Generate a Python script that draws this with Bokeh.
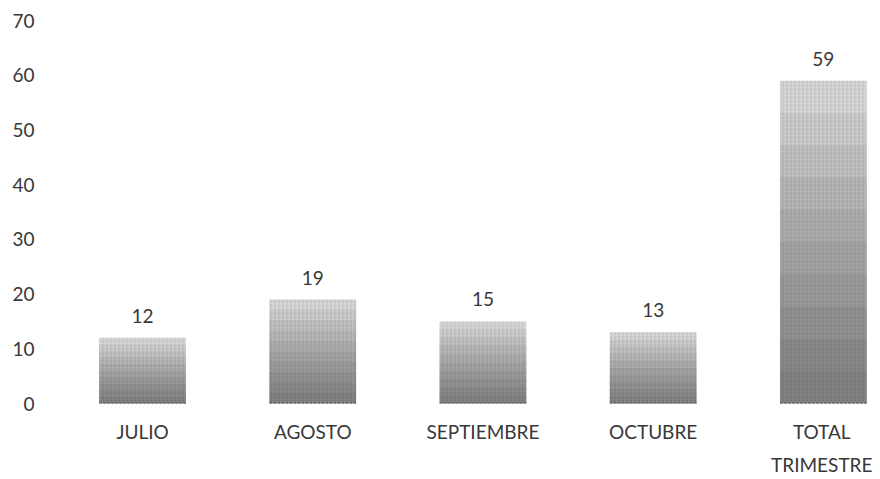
from bokeh.plotting import figure
from bokeh.models import ColumnDataSource, LabelSet, FixedTicker, Range1d
from bokeh.core.properties import value
from bokeh.embed import file_html
from bokeh.resources import INLINE

categories = ["JULIO", "AGOSTO", "SEPTIEMBRE", "OCTUBRE", "TOTAL\nTRIMESTRE"]
values = [12, 19, 15, 13, 59]
y_ticks = [0, 10, 20, 30, 40, 50, 60, 70]

FONT = "Lato"
TXT = "#383838"
W = 0.51
N_SHADE = 10

xs = list(range(len(categories)))
data = dict(
    x=xs,
    top=values,
    x0=[x - W / 2 for x in xs],
    x1=[x + W / 2 for x in xs],
    zero=[0 for _ in xs],
    label=[str(v) for v in values],
)
for k in range(1, N_SHADE):
    data[f"t{k}"] = [v * k / N_SHADE for v in values]
src = ColumnDataSource(data)

p = figure(width=872, height=478, output_backend="svg", toolbar_location=None,
           x_range=Range1d(-0.576, 4.277), y_range=Range1d(0, 70),
           min_border_left=44, min_border_right=2, min_border_top=20, min_border_bottom=0)
p.outline_line_color = None
p.background_fill_color = "white"
p.border_fill_color = "white"
p.grid.grid_line_color = None

p.vbar(x="x", top="top", width=W, source=src, fill_color="#d4d4d4", line_color=None,
       hatch_pattern="vertical_dash", hatch_color="#505050", hatch_alpha=0.22, hatch_scale=4)
for k in range(1, N_SHADE):
    p.vbar(x="x", top=f"t{k}", width=W, source=src, fill_color="black", fill_alpha=0.05, line_color=None)
p.segment(x0="x0", x1="x1", y0="zero", y1="zero", source=src, line_color="#444444",
          line_width=1.5, line_dash="3 1")

labels = LabelSet(x="x", y="top", text="label", source=src, text_align="center",
                  text_baseline="bottom", y_offset=15, text_font=value(FONT),
                  text_font_size="19px", text_color=TXT)
p.add_layout(labels)

p.xaxis.ticker = FixedTicker(ticks=xs)
p.xaxis.major_label_overrides = {i: c for i, c in enumerate(categories)}
p.yaxis.ticker = FixedTicker(ticks=y_ticks)
for ax in [p.xaxis[0], p.yaxis[0]]:
    ax.axis_line_color = None
    ax.major_tick_line_color = None
    ax.minor_tick_line_color = None
    ax.major_label_text_font = FONT
    ax.major_label_text_font_size = "19px"
    ax.major_label_text_color = TXT
p.xaxis.major_label_text_line_height = 1.45
p.xaxis.major_label_standoff = 10
p.yaxis.major_label_standoff = 4

open("out.html", "w").write(file_html(p, INLINE))
